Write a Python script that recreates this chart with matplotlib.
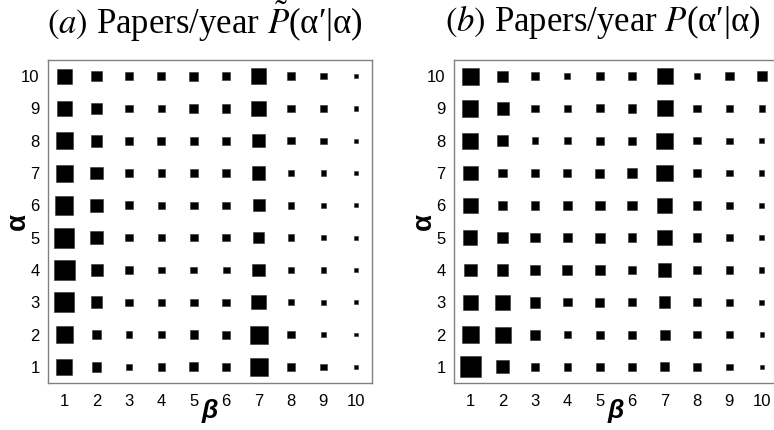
import numpy as np
import matplotlib
matplotlib.use("Agg")
import matplotlib.pyplot as plt

# ---- data: square side per cell, rows alpha = 10 .. 1, cols beta = 1 .. 10 ----
beta = np.arange(1, 11)
alpha = np.arange(10, 0, -1)

p_tilde = np.array([
    [14.0, 10.0, 7.5, 7.5, 8.5, 8.0, 14.5, 7.5, 6.0, 4.0],
    [14.0, 10.0, 7.0, 7.0, 8.5, 8.0, 14.5, 7.0, 6.0, 4.0],
    [16.0, 11.0, 8.0, 7.5, 8.0, 8.0, 12.5, 7.0, 6.0, 4.0],
    [16.0, 12.0, 7.5, 7.0, 7.5, 7.0, 12.5, 6.0, 5.0, 4.0],
    [17.5, 12.5, 7.5, 7.0, 7.0, 7.0, 11.5, 6.0, 5.0, 3.5],
    [19.0, 12.5, 7.0, 6.5, 7.0, 7.0, 11.0, 6.0, 5.0, 3.5],
    [19.5, 11.5, 7.0, 6.5, 6.5, 6.5, 12.0, 6.0, 5.0, 3.5],
    [18.5, 11.0, 7.0, 6.5, 7.0, 7.0, 13.5, 6.0, 5.0, 3.5],
    [16.0, 9.0, 6.0, 7.0, 8.0, 7.5, 17.0, 7.0, 5.0, 3.5],
    [15.0, 9.0, 6.0, 7.0, 8.5, 8.0, 17.0, 8.0, 6.0, 4.0],
])

p_cond = np.array([
    [16.0, 10.5, 7.0, 5.5, 7.0, 7.0, 15.0, 6.0, 8.0, 9.5],
    [15.5, 11.5, 7.0, 6.5, 7.5, 8.0, 15.0, 7.0, 7.0, 6.0],
    [15.5, 10.0, 6.5, 6.5, 8.0, 8.0, 15.5, 7.0, 6.0, 5.0],
    [14.0, 8.0, 7.0, 7.5, 8.5, 9.0, 15.5, 8.0, 6.0, 5.0],
    [14.0, 9.0, 8.0, 8.5, 9.0, 9.0, 14.0, 8.0, 6.0, 5.0],
    [13.5, 10.0, 9.0, 8.5, 9.5, 8.0, 13.5, 8.0, 6.0, 5.0],
    [12.0, 11.0, 10.0, 9.5, 10.0, 8.0, 13.0, 8.0, 7.0, 5.0],
    [14.0, 14.0, 10.0, 8.0, 8.5, 8.0, 11.0, 8.0, 7.0, 4.5],
    [16.0, 15.0, 9.5, 7.0, 7.5, 7.5, 9.5, 7.0, 7.0, 4.0],
    [20.0, 12.0, 8.0, 7.0, 7.5, 7.5, 8.5, 7.0, 6.0, 3.5],
])

titles = [r"$\it{(a)}$ Papers/year $\tilde{P}$(α′|α)",
          r"$\it{(b)}$ Papers/year $P$(α′|α)"]

plt.rcParams["font.family"] = ["Liberation Sans", "DejaVu Sans"]
plt.rcParams["mathtext.fontset"] = "stix"

W, H = 774, 430
fig = plt.figure(figsize=(W / 100, H / 100), dpi=100)

ax_lefts = [48, 454]
title_x = [205, 603]
for k, (data, title) in enumerate(zip([p_tilde, p_cond], titles)):
    ax = fig.add_axes([ax_lefts[k] / W, 1 - 383 / H, 324 / W, 323 / H])
    bx, ay = np.meshgrid(beta, alpha)
    # side in pixels -> marker area in points^2
    sizes = (data * 0.72 * 1.06) ** 2
    ax.scatter(bx.ravel(), ay.ravel(), s=sizes.ravel(), marker="s",
               color="black", edgecolors="#333333", linewidths=0.4)
    ax.set_xlim(0.5, 10.5)
    ax.set_ylim(0.5, 10.5)
    ax.set_xticks(beta)
    ax.set_yticks(beta)
    ax.tick_params(length=0, labelsize=12, pad=8)
    ax.tick_params(axis="y", pad=6)
    for sp in ax.spines.values():
        sp.set_color("#808080")
        sp.set_linewidth(1.0)
    ax.set_xlabel("β", fontsize=19, fontstyle="italic", fontweight="bold",
                  labelpad=-7)
    ax.set_ylabel("α", fontsize=20, fontweight="bold", labelpad=-7)
    fig.text(title_x[k] / W, 1 - 22 / H, title, ha="center", va="center",
             fontsize=25, family=["Liberation Serif", "DejaVu Serif"])

fig.savefig("out.png", dpi=100)
